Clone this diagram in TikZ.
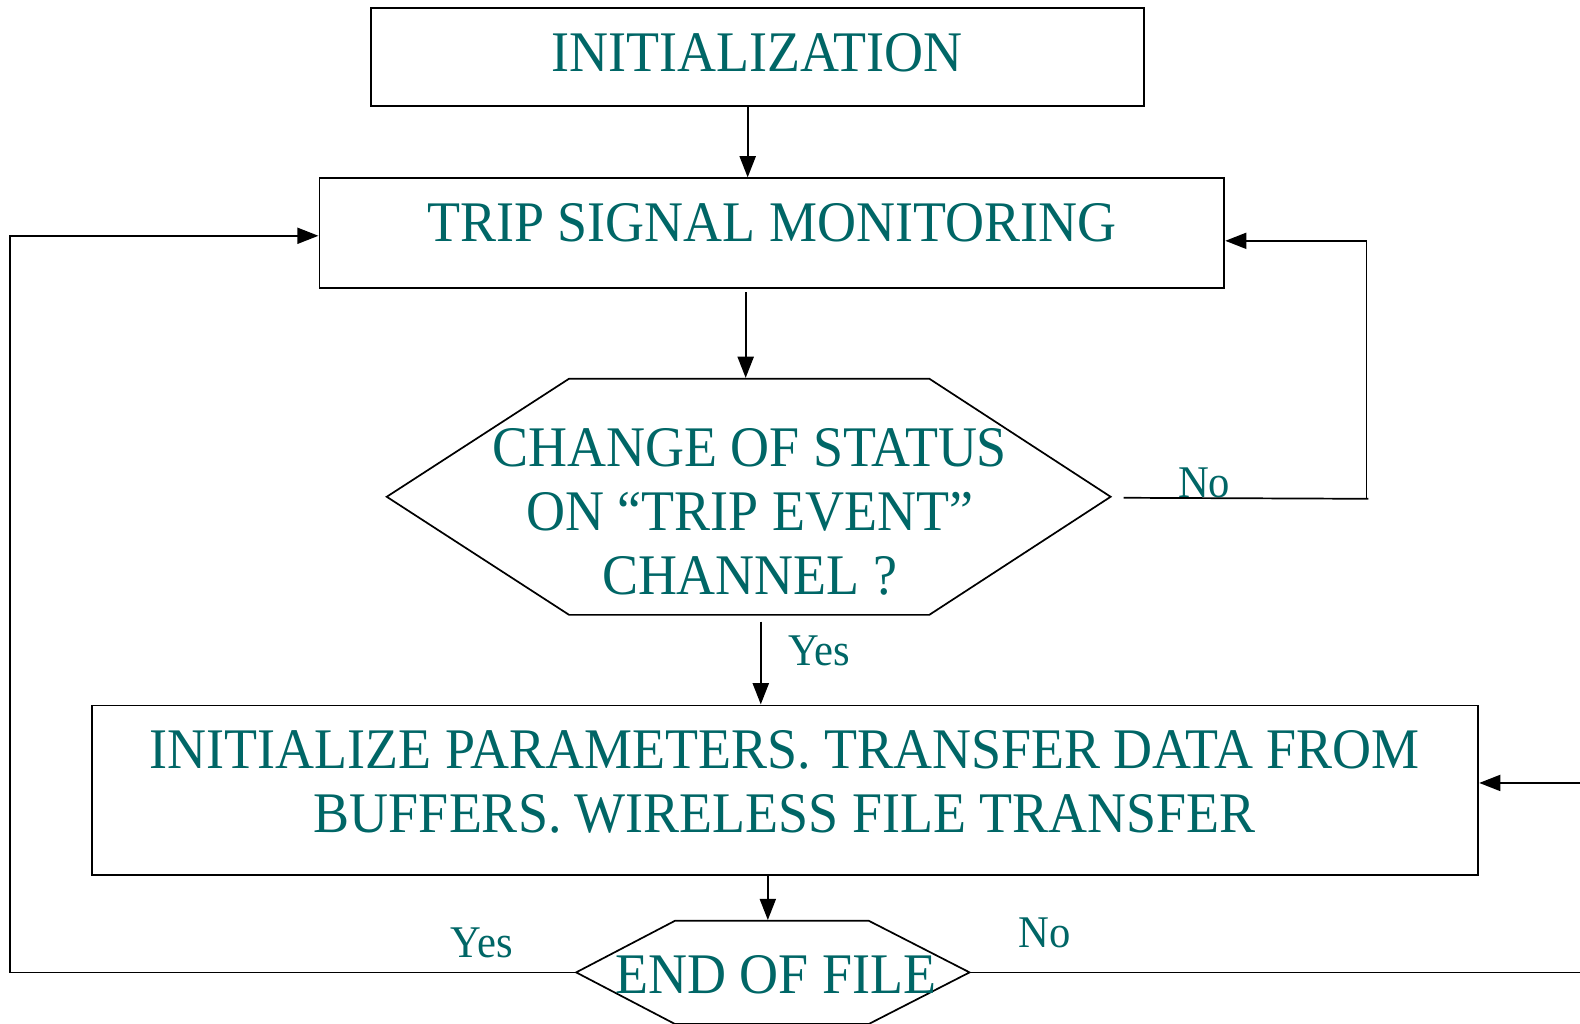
\documentclass[tikz,border=0pt]{standalone}
\usepackage{fontspec}
\setmainfont[FakeStretch=0.94]{Liberation Serif}
\usetikzlibrary{arrows.meta,calc}
\definecolor{tealtext}{RGB}{0,102,102}
\tikzset{
  box/.style={draw=black,line width=1.7pt,inner sep=0pt,text=tealtext,font=\fontsize{57}{63.5}\selectfont,align=center},
  hexa/.style={inner sep=0pt,text=tealtext,font=\fontsize{57}{63.5}\selectfont,align=center},
  lbl/.style={inner sep=0pt,text=tealtext,font=\fontsize{45}{50}\selectfont},
  conn/.style={line width=1.7pt,draw=black},
  arr/.style={conn,-{Triangle[length=21pt,width=16pt]}}
}
\begin{document}
\begin{tikzpicture}[x=1pt,y=-1pt]
\useasboundingbox (0,0) rectangle (1568,1016);
% boxes
\node[box,minimum width=767pt,minimum height=97pt] (init) at (751.5,56.5) {};
\node[text=tealtext,font=\fontsize{57}{63.5}\selectfont,anchor=base] (initt) at (751,71) {INITIALIZATION};
\node[box,minimum width=898pt,minimum height=109pt] (trip) at (766,231.5) {};
\node[text=tealtext,font=\fontsize{57}{63.5}\selectfont,anchor=base] (tript) at (766,240) {TRIP SIGNAL MONITORING};
% decision 1
\node[minimum width=718pt,minimum height=234pt,inner sep=0pt] (dec) at (743,493) {};
\draw[line width=1.7pt] (dec.west) -- ($(dec.north west)+(181,0)$) -- ($(dec.north east)+(-180,0)$) -- (dec.east) -- ($(dec.south east)+(-180,0)$) -- ($(dec.south west)+(181,0)$) -- cycle;
\node[hexa] (dect) at (744,508) {CHANGE OF STATUS\\ON “TRIP EVENT”\\CHANNEL ?};
% process
\node[box,minimum width=1376pt,minimum height=168pt] (proc) at (779,784) {};
\node[hexa] (proct) at (779,776) {INITIALIZE PARAMETERS. TRANSFER DATA FROM\\BUFFERS. WIRELESS FILE TRANSFER};
% decision 2
\node[minimum width=390pt,minimum height=102pt,inner sep=0pt] (eof) at (767,965) {};
\draw[line width=1.7pt] (eof.west) -- ($(eof.north west)+(98,0)$) -- ($(eof.north east)+(-100,0)$) -- (eof.east) -- ($(eof.south east)+(-100,0)$) -- ($(eof.south west)+(98,0)$) -- cycle;
\node[hexa] (eoft) at (770,967) {END OF FILE};
% labels
\node[lbl] (no1) at (1195,479) {No};
\node[lbl] (yes1) at (813,646) {Yes};
\node[lbl] (yes2) at (478,936) {Yes};
\node[lbl] (no2) at (1037,926) {No};
% coordinates
\coordinate (a1) at (742,105);
\coordinate (a2) at (742,176);
\coordinate (b1) at (740,290);
\coordinate (b2) at (740,375);
\coordinate (n1) at (1115,494);
\coordinate (n2) at (1358,495);
\coordinate (n3) at (1356,239);
\coordinate (n4) at (1216,239);
\coordinate (y1) at (755,617);
\coordinate (y2) at (755,699);
\coordinate (r1) at (1568,777);
\coordinate (r2) at (1468,777);
\coordinate (c1) at (762,868);
\coordinate (c2) at (762,913);
\coordinate (l1) at (10,965);
\coordinate (l2) at (10,234);
\coordinate (l3) at (316,234);
\coordinate (e1) at (1568,965);
% connectors
\draw[arr] (a1) -- (a2);
\draw[arr] (b1) -- (b2);
\draw[conn] (n1) -- (n2);
\draw[arr] (n2 |- n1) ++(-2,0) -- (n3) -- (n4);
\draw[arr] (y1) -- (y2);
\draw[arr] (r1) -- (r2);
\draw[arr] (c1) -- (c2);
\draw[arr] (eof.west) -- (l1) -- (l2) -- (l3);
\draw[conn] (eof.east) -- (e1);
\end{tikzpicture}
\end{document}
